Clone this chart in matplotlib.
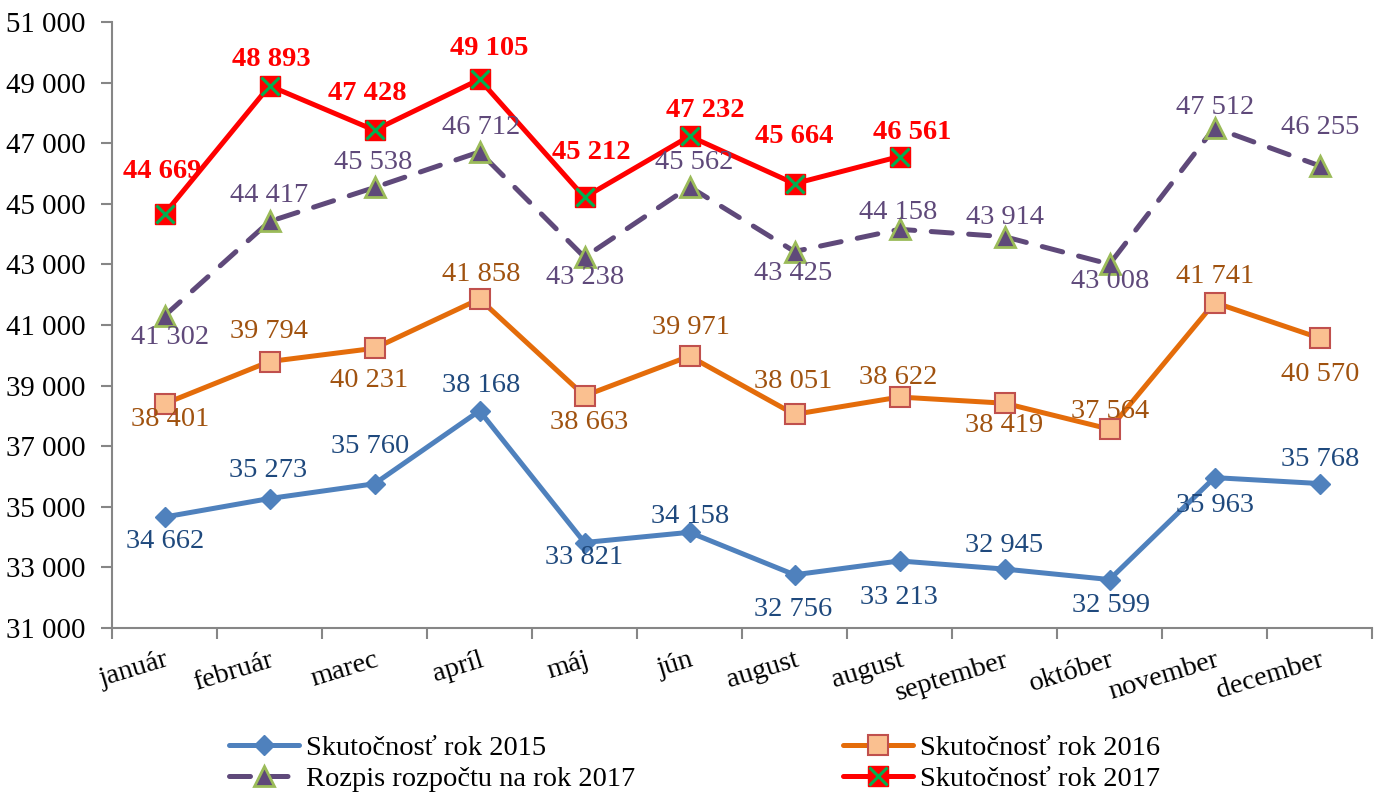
import matplotlib
matplotlib.use("Agg")
import matplotlib.pyplot as plt
import matplotlib.transforms as mtransforms
from matplotlib.ticker import FuncFormatter, FixedLocator
from matplotlib.legend_handler import HandlerTuple

months = ["január", "február", "marec", "apríl", "máj", "jún", "august",
          "august", "september", "október", "november", "december"]
s2015 = [34662, 35273, 35760, 38168, 33821, 34158, 32756, 33213, 32945, 32599, 35963, 35768]
s2016 = [38401, 39794, 40231, 41858, 38663, 39971, 38051, 38622, 38419, 37564, 41741, 40570]
plan2017 = [41302, 44417, 45538, 46712, 43238, 45562, 43425, 44158, 43914, 43008, 47512, 46255]
s2017 = [44669, 48893, 47428, 49105, 45212, 47232, 45664, 46561]

names = ["Skutočnosť rok 2015", "Skutočnosť rok 2016",
         "Rozpis rozpočtu na rok 2017", "Skutočnosť rok 2017"]

# label offsets in pixels (dx, dy), dy positive = up
off2015 = [(1, -24), (-1, 28), (-4, 37), (2, 25), (0, -15), (1, 16), (-1, -35), (-1, -37),
           (0, 24), (1, -26), (1, -28), (1, 24)]
off2016 = [(6, -16), (0, 30), (-5, -32), (2, 25), (5, -27), (1, 29), (-1, 33), (-1, 20),
           (0, -22), (1, 18), (1, 26), (1, -36)]
offplan = [(6, -22), (0, 26), (-1, 25), (2, 24), (1, -20), (5, 24), (-1, -22), (-1, 17),
           (0, 19), (1, -17), (1, 20), (1, 38)]
off2017 = [(-2, 42), (2, 26), (-7, 37), (10, 31), (7, 45), (16, 26), (0, 47), (13, 24)]

plt.rcParams['font.family'] = ['Liberation Serif', 'DejaVu Serif']

fig = plt.figure(figsize=(13.83, 7.98), dpi=100)
ax = fig.add_axes([112/1383, 1-628/798, (1372-112)/1383, (628-22)/798])

x = list(range(len(months)))
x17 = list(range(len(s2017)))

c15, c16, cplan, c17 = '#4F81BD', '#E46C0A', '#5F497A', '#FF0000'
t15, t16, tplan = '#1F497D', '#A0520F', '#5F497A'
lw = 3.6

l15, = ax.plot(x, s2015, color=c15, lw=lw, marker='D', ms=10, mfc=c15, mec=c15,
               solid_capstyle='round', zorder=3)
l16, = ax.plot(x, s2016, color=c16, lw=lw, marker='s', ms=14, mfc='#FAC090',
               mec='#C0504D', mew=1.5, solid_capstyle='round', zorder=3)
lplan, = ax.plot(x, plan2017, color=cplan, lw=lw, ls=(0, (4.2, 3.3)), marker='^', ms=14,
                 mfc=cplan, mec='#9BBB59', mew=2, dash_capstyle='round', zorder=4)
l17, = ax.plot(x17, s2017, color=c17, lw=lw, marker='s', ms=15, mfc=c17, mec=c17,
               solid_capstyle='round', zorder=5)
l17x, = ax.plot(x17, s2017, ls='none', marker='x', ms=13, mec='#00B050', mew=2.2, zorder=6)

fs = 20.5

def lab(xs, vals, offs, color, bold=False):
    for xi, v, (dx, dy) in zip(xs, vals, offs):
        ax.annotate(f"{v:,}".replace(",", " "), (xi, v), xytext=(dx, dy),
                    textcoords='offset pixels', ha='center', va='center',
                    fontsize=fs, color=color, fontweight='bold' if bold else 'normal',
                    zorder=7)

lab(x, s2015, off2015, t15)
lab(x, s2016, off2016, t16)
lab(x, plan2017, offplan, tplan)
lab(x17, s2017, off2017, c17, bold=True)

ax.set_xlim(-0.5, len(months) - 0.5)
ax.set_ylim(31000, 51000)
ax.set_yticks(range(31000, 51001, 2000))
ax.yaxis.set_major_formatter(FuncFormatter(lambda v, p: f"{int(v):,}".replace(",", " ")))
ax.set_xticks(x)
ax.set_xticklabels(months, rotation=17, ha='right', rotation_mode='anchor')
shift = mtransforms.ScaledTranslation(10/100, -4/100, fig.dpi_scale_trans)
for lbl in ax.get_xticklabels():
    lbl.set_transform(lbl.get_transform() + shift)
ax.xaxis.set_minor_locator(FixedLocator([i - 0.5 for i in range(len(months) + 1)]))
ax.tick_params(axis='x', which='major', length=0, labelsize=fs, pad=14)
ax.tick_params(axis='x', which='minor', length=8, color='#868686', width=1.5)
ax.tick_params(axis='y', which='major', length=8, color='#868686', width=1.5,
               labelsize=fs + 0.3, pad=11)
for s in ['top', 'right']:
    ax.spines[s].set_visible(False)
for s in ['left', 'bottom']:
    ax.spines[s].set_color('#868686')
    ax.spines[s].set_linewidth(1.5)

handles = [l15, lplan, l16, (l17, l17x)]
labels = [names[0], names[2], names[1], names[3]]
leg = fig.legend(handles, labels, loc='center', bbox_to_anchor=(0.5025, 0.043), ncol=2,
                 frameon=False, fontsize=fs, handlelength=2.45, columnspacing=7.3,
                 labelspacing=0.18, handletextpad=0.25, borderpad=0,
                 handler_map={tuple: HandlerTuple(ndivide=1, pad=0)})

fig.savefig("out.png", dpi=100)
